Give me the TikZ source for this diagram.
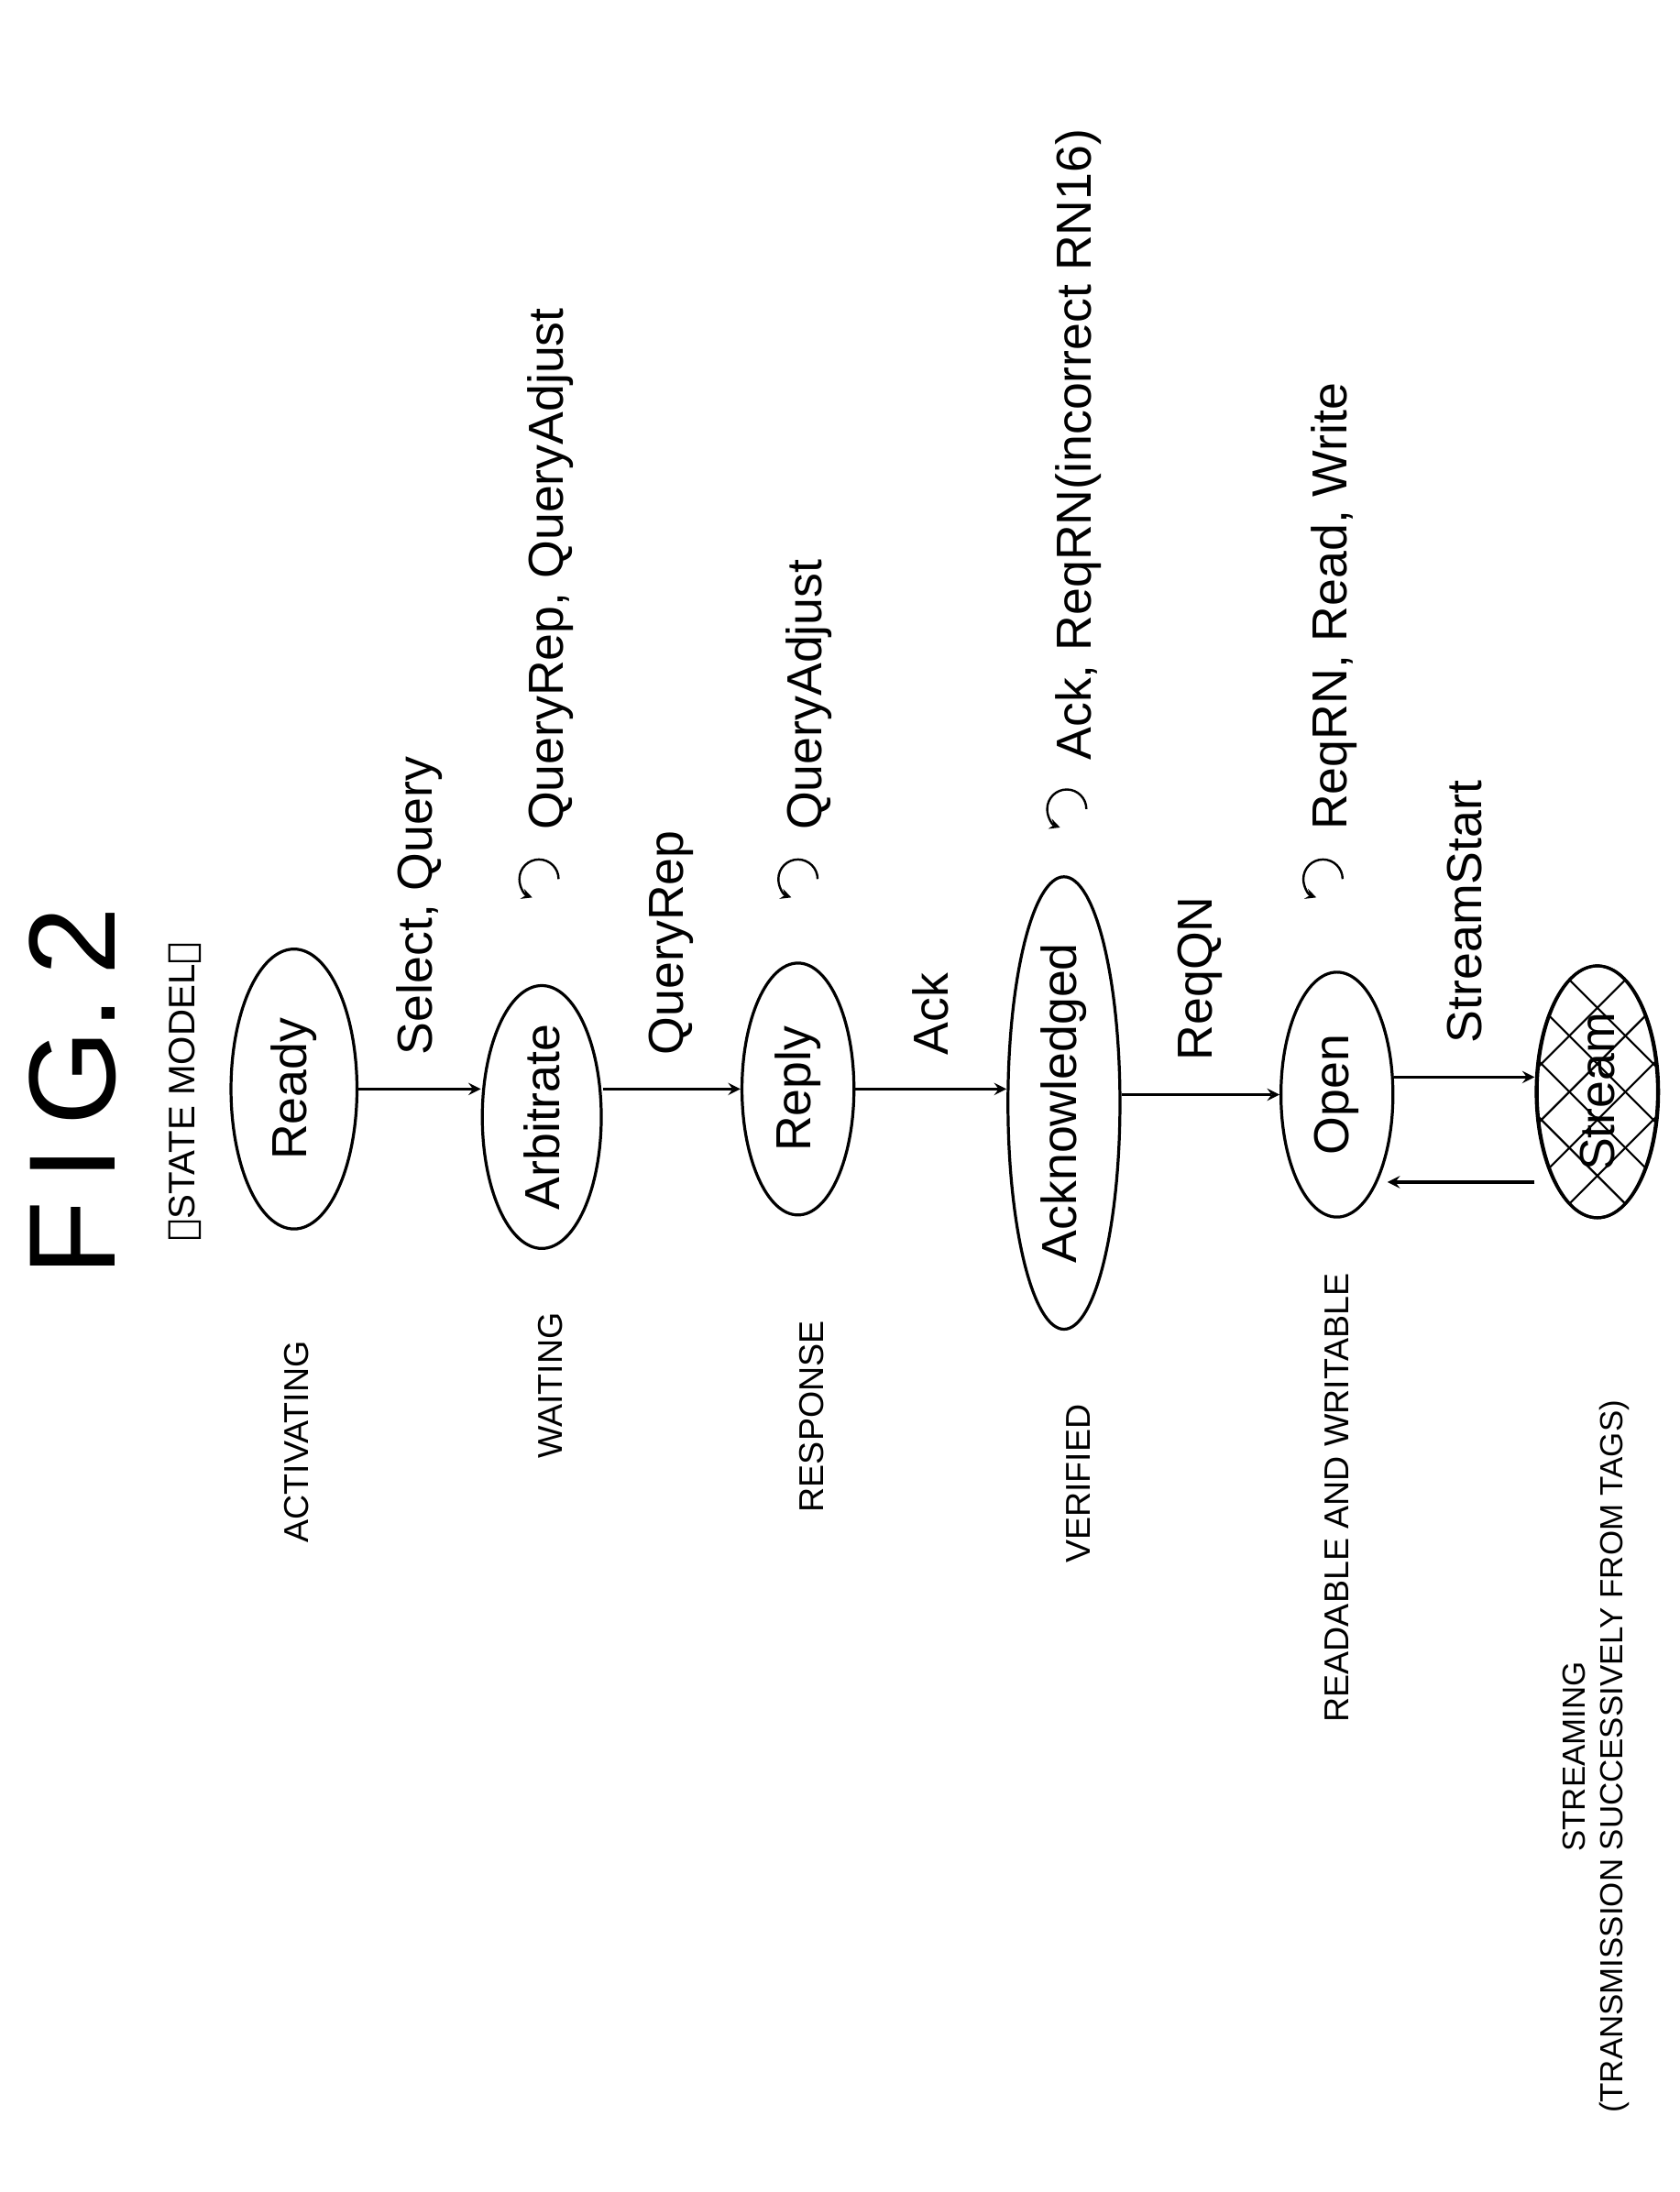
\documentclass[tikz,border=0pt]{standalone}
\usepackage{fontspec}
\setmainfont{Liberation Sans}
\newfontfamily\symfont{DejaVu Sans}
\usetikzlibrary{shapes.geometric,positioning}
\begin{document}
\begin{tikzpicture}[x=0.02cm,y=-0.02cm,line width=1.2pt,>=stealth]

        % styles of the states and of the texts
        \tikzset{state/.style={draw, ellipse, rotate=90, inner sep=0pt,
                 font=\fontsize{20}{24}\selectfont},
                 lbl/.style={rotate=90, font=\fontsize{20}{24}\selectfont},
                 captxt/.style={rotate=90, align=center,
                 font=\fontsize{14}{16}\selectfont}}

        \useasboundingbox (0,0) rectangle (1200,1566);

        \node[rotate=90, font=\fontsize{50}{56}\selectfont] (fig) at (52,780) {F\,I\,G.\,2};
        \node[rotate=90, font=\fontsize{15}{18}\selectfont] (model) at (132,780) {{\symfont〈}STATE MODEL{\symfont〉}};

        % the states
        \node[state, minimum width=4cm, minimum height=1.8cm] (Ready) at (210,778) {Ready};
        \node[state, minimum width=3.7cm, minimum height=1.7cm] (Arb) at (387,798) {Arbitrate};
        \node[state, minimum width=3.6cm, minimum height=1.6cm] (Rep) at (570,778) {Reply};
        \node[state, minimum width=5.9cm, minimum height=1.6cm] (Ack) at (760,788) {Acknowledged};
        \node[state, minimum width=3.5cm, minimum height=1.6cm] (Open) at (955,782) {Open};
        \node[state, minimum width=3.6cm, minimum height=1.75cm] (Str) at (1141,780) {};
        \begin{scope}
            \clip (1141,780) ellipse (43 and 90);
            \foreach \k in {-300,-260,...,300}
            {\draw[line width=0.8pt] (1141+\k-120,660) -- (1141+\k+120,900);
             \draw[line width=0.8pt] (1141+\k+120,660) -- (1141+\k-120,900);}
        \end{scope}
        \draw (1141,780) ellipse (43 and 90);
        \node[rotate=90, font=\fontsize{20}{24}\selectfont] at (1141,780) {Stream};

        % the state captions
        \node[captxt] (c1) at (212,1030) {ACTIVATING};
        \node[captxt] (c2) at (393,990) {WAITING};
        \node[captxt] (c3) at (580,1012) {RESPONSE};
        \node[captxt] (c4) at (770,1060) {VERIFIED};
        \node[captxt] (c5) at (955,1070) {READABLE AND WRITABLE};
        \node[captxt, font=\fontsize{13}{15}\selectfont] (c6) at (1140,1255) {STREAMING\\(TRANSMISSION SUCCESSIVELY FROM TAGS)};

        % transitions
        \draw[->] (Ready.south) -- (Arb.north |- Ready.south) node[lbl, midway, above=0.35cm, anchor=west] (t1) {Select, Query};
        \draw[->] (Arb.south |- Rep.north) -- (Rep.north) node[lbl, midway, above=0.35cm, anchor=west] (t2) {QueryRep};
        \draw[->] (Rep.south) -- (Ack.north |- Rep.south) node[lbl, midway, above=0.35cm, anchor=west] (t3) {Ack};
        \draw[->] (Ack.south |- Open.north) -- (Open.north) node[lbl, midway, above=0.35cm, anchor=west] (t4) {ReqQN};
        \draw[->] ([yshift=0.25cm]Open.south) -- ([yshift=0.25cm]Open.south -| Str.north) node[lbl, midway, above=0.35cm, anchor=west] (t5) {StreamStart};
        \draw[->] ([yshift=-1.25cm]Open.south -| Str.north) -- ([yshift=-1.25cm,xshift=-0.1cm]Open.south);

        % self loops
        \foreach \n/\x/\y/\t in {Arb/385/628/{QueryRep, QueryAdjust},
                                 Rep/570/628/{QueryAdjust},
                                 Ack/762/578/{Ack, ReqRN(incorrect RN16)},
                                 Open/945/628/{ReqRN, Read, Write}}
        {\draw[->, line width=0.9pt] (\x+14,\y) arc (0:-250:14);
         \node[lbl, anchor=west] (loop\n) at (\x+8,\y-28) {\t};}

\end{tikzpicture}
\end{document}
